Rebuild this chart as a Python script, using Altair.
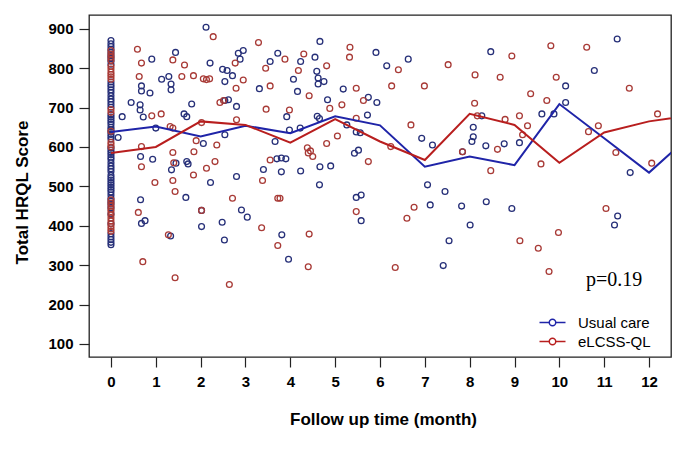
import altair as alt
import pandas as pd

groups = ["Usual care", "eLCSS-QL"]

# Mean lines (month, value); month 13 continues past the clipped right edge
line_months = list(range(0, 14))
usual_mean = [638, 652, 627, 654, 635, 678, 655, 550, 576, 554, 709, 622, 535, 637]
elcss_mean = [585, 600, 665, 656, 611, 671, 614, 567, 684, 656, 560, 637, 665, 681]

# Baseline (month 0) scores
usual_base = [870, 862, 855, 848, 840, 832, 826, 818, 810, 765, 758, 752, 745, 738, 730,
              722, 715, 708, 701, 682, 676, 670, 664, 658, 650, 644, 638, 632, 626, 620,
              598, 592, 586, 580, 574, 568, 560, 552, 545, 538, 528, 522, 516, 510, 504,
              498, 492, 486, 478, 470, 462, 455, 446, 430, 405, 380, 372, 365, 358, 352]
elcss_base = [845, 836, 828, 820, 805, 798, 790, 784, 778, 772, 695, 688, 640, 612, 606,
              600, 466, 458, 450, 442, 436, 428, 420, 412, 405, 398, 392, 386]

# Follow-up observations
usual_x = [2.12, 0.91, 1.44, 1.13, 1.29, 1.34, 1.34, 0.68, 0.68, 0.87, 0.45, 0.65, 0.65, 0.72,
           0.25, 1.0, 1.63, 1.69, 1.8, 2.21, 2.49, 2.59, 2.54, 2.71, 2.84, 2.95, 2.88, 2.62,
           2.54, 2.8, 2.54, 2.06, 0.16, 3.31, 3.55, 3.72, 3.66, 3.7, 3.8, 3.9, 3.92, 3.8, 3.4,
           2.8, 0.93, 0.66, 1.45, 1.69, 1.72,
           2.22, 1.35, 0.66, 1.67, 2.02, 0.68, 0.76, 2.02, 2.48, 2.91, 3.04, 1.33, 2.53, 3.81,
           3.96,
           4.66, 4.55, 4.23, 4.59, 4.62, 4.62, 4.75, 4.07, 5.91, 6.15, 6.63, 4.16, 4.83, 5.18,
           5.74, 5.93, 5.72, 4.6, 4.65, 3.98, 4.22, 5.47, 5.56, 5.26, 6.93, 7.17, 7.84, 5.43,
           5.52, 4.23, 4.66, 4.9, 8.08, 8.08, 8.05,
           4.65, 5.47, 5.58, 5.58, 7.06, 7.45, 7.12, 7.82, 8.01, 7.54, 7.41,
           8.47, 11.29, 10.78, 10.14, 10.14, 9.61, 9.88, 8.27, 8.36, 8.77, 9.11, 11.58,
           8.37, 8.94, 11.3, 11.23]
usual_y = [904, 823, 840, 772, 779, 760, 745, 755, 742, 737, 713, 707, 694, 676,
           677, 648, 684, 677, 709, 813, 797, 794, 766, 781, 838, 845, 823, 720,
           718, 703, 631, 609, 624, 748, 817, 838, 614, 570, 572, 570, 677, 537, 543,
           525, 569, 576, 559, 563, 557,
           510, 542, 466, 472, 439, 406, 413, 398, 409, 440, 422, 374, 364, 377,
           315,
           868, 828, 817, 792, 775, 760, 766, 772, 840, 806, 823, 741, 720, 747,
           726, 713, 681, 678, 672, 643, 648, 638, 636, 656, 622, 605, 588, 584,
           592, 539, 550, 552, 650, 626, 614,
           504, 472, 478, 413, 504, 487, 453, 450, 402, 362, 299,
           842, 874, 794, 755, 713, 684, 684, 679, 603, 608, 611, 535,
           461, 444, 425, 402]

elcss_x = [2.28, 0.59, 0.68, 1.38, 1.64, 1.58, 1.84, 2.06, 2.13, 2.2, 2.77, 2.95, 2.79, 3.29,
           3.45, 3.88, 3.55, 0.63, 0.91, 1.12, 2.43, 2.51, 2.8, 3.46, 2.02, 1.32, 1.38, 0.68,
           1.38, 1.9, 2.36, 1.4, 1.85, 0.68, 1.84, 2.13, 2.32, 3.55,
           0.98, 1.38, 1.43, 3.38, 2.71, 3.72, 0.61, 2.02, 3.36, 1.28, 3.72, 0.71, 1.43, 2.64,
           4.3, 4.18, 4.81, 5.33, 5.32, 6.41, 6.26, 6.99, 7.52, 8.12, 4.42, 5.47, 5.63, 5.15,
           4.88, 3.98, 5.47, 6.69, 8.11, 4.81, 5.05, 4.38, 4.45, 4.5, 4.4, 6.24, 5.74, 7.84,
           4.42, 4.4, 5.47, 6.6, 6.76, 6.34, 3.77,
           9.81, 10.61, 8.94, 8.68, 9.93, 11.56, 9.36, 9.72, 8.17, 8.79, 9.11, 9.29, 9.18,
           10.65, 10.87, 8.62, 11.26, 9.59, 8.47, 12.06, 12.19,
           11.04, 9.12, 9.53, 9.98, 9.77]
elcss_y = [880, 848, 813, 821, 808, 779, 781, 773, 771, 773, 813, 770, 749, 865,
           800, 823, 755, 779, 679, 684, 713, 718, 669, 696, 662, 652, 648, 601,
           586, 616, 605, 560, 588, 550, 529, 546, 563, 567,
           510, 515, 487, 515, 470, 470, 434, 439, 395, 377, 350, 309, 268, 251,
           836, 794, 806, 853, 828, 796, 755, 755, 809, 783, 730, 749, 718, 707,
           698, 694, 673, 656, 711, 609, 628, 598, 590, 576, 585, 601, 563, 588,
           379, 296, 436, 419, 447, 294, 470,
           857, 853, 831, 777, 777, 749, 735, 718, 679, 670, 679, 654, 631,
           639, 654, 594, 586, 557, 540, 559, 684,
           444, 362, 343, 383, 284]

x_ticks = list(range(0, 13))
y_ticks = list(range(100, 1000, 100))
p_label = "p=0.19"

rows = []
for v in usual_base:
    rows.append({"month": 0.0, "score": v, "group": groups[0]})
for v in elcss_base:
    rows.append({"month": 0.0, "score": v, "group": groups[1]})
for m, v in zip(usual_x, usual_y):
    rows.append({"month": m, "score": v, "group": groups[0]})
for m, v in zip(elcss_x, elcss_y):
    rows.append({"month": m, "score": v, "group": groups[1]})
pts = pd.DataFrame(rows)

lines = pd.DataFrame(
    [{"month": m, "score": v, "group": groups[0]} for m, v in zip(line_months, usual_mean)]
    + [{"month": m, "score": v, "group": groups[1]} for m, v in zip(line_months, elcss_mean)]
)

xscale = alt.Scale(domain=[-0.49, 12.49], nice=False, zero=False)
yscale = alt.Scale(domain=[67, 935], nice=False, zero=False)

xaxis = alt.Axis(values=x_ticks, title="Follow up time (month)", grid=False, domain=False,
                 tickSize=10, labelPadding=7, titleX=294, titleY=62,
                 titleBaseline="middle", labelAngle=0)
yaxis = alt.Axis(values=y_ticks, title="Total HRQL Score", grid=False, domain=False,
                 tickSize=10, labelPadding=6, titleX=-67, titleY=177,
                 titleBaseline="middle")

sym = "M-2,0L-0.5,0M0.5,0L2,0M0.5,0A0.5,0.5,0,1,1,-0.5,0A0.5,0.5,0,1,1,0.5,0"

points = alt.Chart(pts).mark_point(shape="circle", filled=False, size=34, strokeWidth=1.3,
                                   opacity=1).encode(
    x=alt.X("month:Q", scale=xscale, axis=xaxis),
    y=alt.Y("score:Q", scale=yscale, axis=yaxis),
    color=alt.Color("group:N", scale=alt.Scale(domain=groups, range=["#262f78", "#a83a36"]),
                    legend=None),
)

line_layer = alt.Chart(lines).mark_line(strokeWidth=2, clip=True).encode(
    x=alt.X("month:Q", scale=xscale),
    y=alt.Y("score:Q", scale=yscale),
    color=alt.Color("group:N", sort=groups,
                    scale=alt.Scale(domain=groups, range=["#1f24a8", "#b81e1e"]),
                    legend=alt.Legend(title=None, orient="none", legendX=456, legendY=300,
                                      symbolType=sym, symbolSize=169, symbolStrokeWidth=1.5,
                                      symbolFillColor="transparent", labelOffset=18,
                                      labelFont="Liberation Sans", labelFontSize=15,
                                      labelColor="black", rowPadding=3, padding=0)),
    detail="group:N",
)

ptxt = alt.Chart(pd.DataFrame({"month": [11.22], "score": [262], "t": [p_label]})).mark_text(
    font="Liberation Serif", fontSize=20, color="black", align="center", baseline="middle"
).encode(
    x=alt.X("month:Q", scale=xscale),
    y=alt.Y("score:Q", scale=yscale),
    text="t:N",
)

chart = alt.layer(points, line_layer, ptxt).resolve_scale(color="independent").properties(
    width=582, height=342,
    background="white",
    autosize=alt.AutoSizeParams(type="none"),
    padding={"left": 81, "top": 7, "right": 8, "bottom": 84},
).configure_view(stroke="#222222", strokeWidth=1.3).configure_axis(
    labelFont="Liberation Sans", labelFontSize=15, labelFontWeight="bold", labelColor="black",
    titleFont="Liberation Sans", titleFontSize=17, titleFontWeight="bold", titleColor="black",
    tickColor="#222222", tickWidth=1.2,
)

chart.save("out.html", embed_options={"renderer": "svg", "actions": False})
